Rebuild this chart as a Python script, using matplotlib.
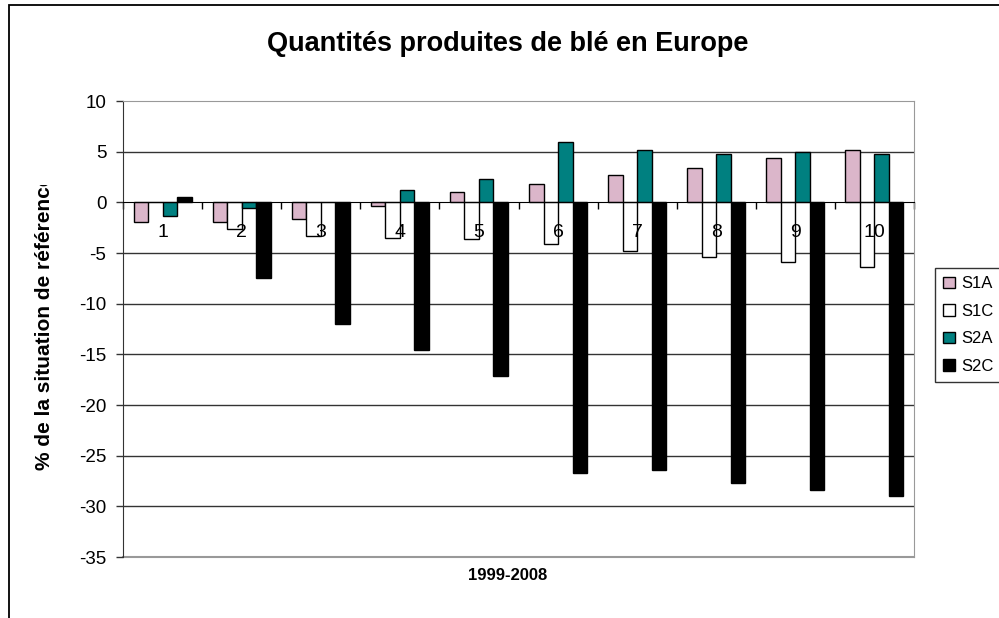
import numpy as np
import matplotlib
matplotlib.use("Agg")
from matplotlib import pyplot as plt
from matplotlib.patches import Rectangle
from matplotlib.transforms import Bbox, TransformedBbox

plt.rcParams['font.family'] = ['Liberation Sans', 'DejaVu Sans']
plt.rcParams['axes.unicode_minus'] = False

categories = ["1", "2", "3", "4", "5", "6", "7", "8", "9", "10"]
series_names = ["S1A", "S1C", "S2A", "S2C"]
s1a = [-1.9, -1.9, -1.6, -0.35, 1.05, 1.8, 2.65, 3.35, 4.35, 5.15]
s1c = [0.0, -2.65, -3.3, -3.5, -3.65, -4.15, -4.85, -5.35, -5.85, -6.35]
s2a = [-1.35, -0.6, 0.0, 1.25, 2.35, 6.0, 5.15, 4.8, 4.95, 4.8]
s2c = [0.5, -7.5, -12.0, -14.6, -17.1, -26.75, -26.4, -27.7, -28.4, -29.0]
colors = ["#dbb6ca", "#ffffff", "#008080", "#000000"]

W, H = 999, 618
fig = plt.figure(figsize=(W / 100, H / 100), dpi=100)

# outer chart border (runs off the right and bottom edges)
fig.patches.append(Rectangle((9 / W, -0.1), 1.2, 1 - 5 / H + 0.1, transform=fig.transFigure,
                             fill=False, edgecolor="black", linewidth=1.3))

ax = fig.add_axes([123 / W, (H - 557) / H, 791 / W, 456 / H])
x = np.arange(len(categories))
width = 0.183
for k, (name, vals) in enumerate(zip(series_names, [s1a, s1c, s2a, s2c])):
    ax.bar(x + (k - 1.5) * width, vals, width, color=colors[k], edgecolor="black",
           linewidth=1.0, label=name, zorder=3)

ax.set_xlim(-0.5, len(categories) - 0.5)
ax.set_ylim(-35, 10)
ax.set_yticks(np.arange(-35, 11, 5))
ax.tick_params(axis="y", direction="out", length=5, width=1, labelsize=13.5, pad=7, color="#333333")
for yv in range(-30, 10, 5):
    if yv != 0:
        ax.axhline(yv, color="#333333", linewidth=1.0, zorder=1)

# category axis sits on the zero line
ax.spines["bottom"].set_position(("data", 0))
ax.spines["bottom"].set_color("black")
ax.spines["bottom"].set_zorder(4)
ax.spines["left"].set_color("#333333")
ax.spines["top"].set_color("#999999")
ax.spines["right"].set_color("#999999")
ax.axhline(-35, color="#999999", linewidth=1.5, zorder=1, clip_on=False)
ax.set_xticks(np.arange(-0.5, len(categories), 1.0))
ax.set_xticklabels([])
ax.tick_params(axis="x", direction="out", length=5, width=1, color="black")

# category labels just under the zero line, drawn over the bars
for i, c in enumerate(categories):
    ax.text(i, -2.95, c, ha="center", va="center", fontsize=14, zorder=6)

fig.text(508 / W, 1 - 44 / H, "Quantités produites de blé en Europe", ha="center", va="center",
         fontsize=19.5, fontweight="bold")
fig.text(508 / W, 1 - 576 / H, "1999-2008", ha="center", va="center", fontsize=12, fontweight="bold")
ylab = fig.text(45 / W, 1 - 470 / H, "% de la situation de référence", ha="center", va="bottom",
                rotation=90, fontsize=15, fontweight="bold")
ylab.set_clip_box(TransformedBbox(Bbox([[0, (H - 560) / H], [0.2, (H - 185) / H]]), fig.transFigure))
ylab.set_clip_on(True)

leg = fig.legend(loc="upper left", bbox_to_anchor=(935 / W, 1 - 268 / H), fontsize=12,
                 frameon=True, fancybox=False, edgecolor="black", handlelength=0.7,
                 handleheight=0.7, handletextpad=0.4, labelspacing=0.75, borderpad=0.5,
                 borderaxespad=0)
leg.get_frame().set_linewidth(1.0)

fig.savefig("out.png", dpi=100)
